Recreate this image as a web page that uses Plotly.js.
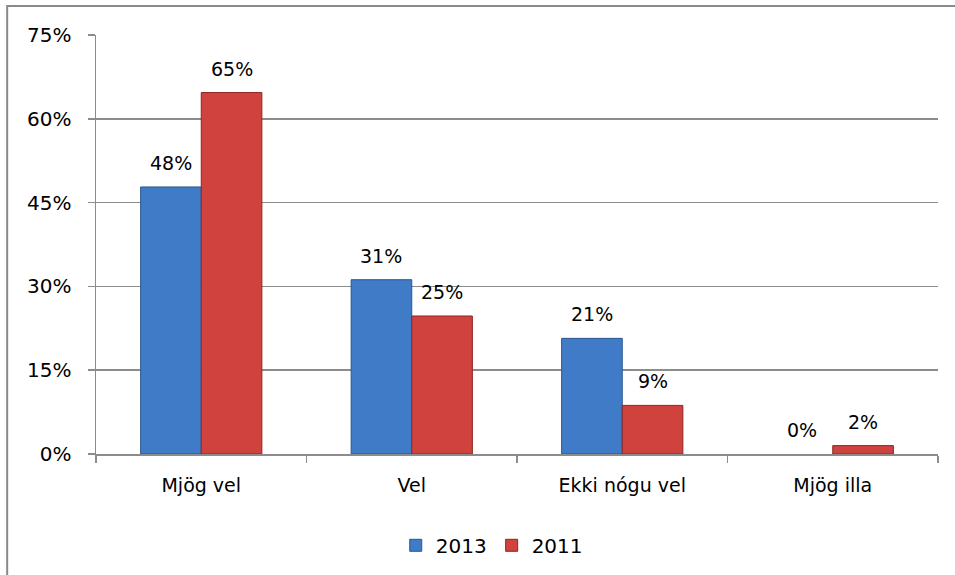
<!DOCTYPE html>
<html>
<head>
<meta charset="utf-8">
<script src="https://cdn.plot.ly/plotly-3.0.1.min.js"></script>
<style>
  html, body { margin: 0; padding: 0; background: #ffffff; }
  #chart { width: 955px; height: 575px; }
</style>
</head>
<body>
<div id="chart"></div>
<script>
const categories = ["Mjög vel", "Vel", "Ekki nógu vel", "Mjög illa"];
const seriesNames = ["2013", "2011"];
const values2013 = [47.8, 31.2, 20.7, 0];
const values2011 = [64.7, 24.7, 8.7, 1.5];
const labels2013 = ["48%", "31%", "21%", "0%"];
const labels2011 = ["65%", "25%", "9%", "2%"];
const yTicks = [0, 15, 30, 45, 60, 75];
const yTickText = ["0%", "15%", "30%", "45%", "60%", "75%"];

const FONT = "DejaVu Sans, sans-serif";
const gridCol = "#8c8c8c";

const traces = [
  {
    type: "bar", name: seriesNames[0], x: categories, y: values2013,
    marker: { color: "#3f7bc6", line: { color: "#2b5890", width: values2013.map(v => v > 0 ? 1 : 0) } },
    hoverinfo: "x+y"
  },
  {
    type: "bar", name: seriesNames[1], x: categories, y: values2011,
    marker: { color: "#cf423e", line: { color: "#8e2724", width: values2011.map(v => v > 0 ? 1 : 0) } },
    hoverinfo: "x+y"
  }
];

const annotations = [];
categories.forEach((c, i) => {
  annotations.push({ x: c, y: values2013[i], text: labels2013[i], xref: "x", yref: "y",
    showarrow: false, xshift: -30.5, yshift: 24, yanchor: "middle",
    font: { family: FONT, size: 19, color: "#000" } });
  annotations.push({ x: c, y: values2011[i], text: labels2011[i], xref: "x", yref: "y",
    showarrow: false, xshift: 30.5, yshift: 24, yanchor: "middle",
    font: { family: FONT, size: 19, color: "#000" } });
});

const layout = {
  width: 955, height: 575,
  margin: { l: 96, r: 17, t: 35, b: 119.5 },
  paper_bgcolor: "#ffffff", plot_bgcolor: "#ffffff",
  font: { family: FONT, size: 19, color: "#000" },
  barmode: "group", bargap: 0.424, bargroupgap: 0,
  showlegend: true,
  legend: { orientation: "h", x: 0.47, xanchor: "center", y: -0.215, yanchor: "middle",
    font: { family: FONT, size: 20, color: "#000" }, itemwidth: 30, tracegroupgap: 0 },
  xaxis: {
    type: "category", showline: true, linecolor: gridCol, linewidth: 1.5,
    ticks: "outside", tickson: "boundaries", ticklen: 7, tickcolor: gridCol, tickwidth: 1.5,
    showgrid: false, ticklabelstandoff: 14,
    tickfont: { family: FONT, size: 19, color: "#000" }
  },
  yaxis: {
    range: [0, 75], tickmode: "array", tickvals: yTicks, ticktext: yTickText,
    showline: true, linecolor: gridCol, linewidth: 1.5,
    ticks: "outside", ticklen: 7, tickcolor: gridCol, tickwidth: 1.5,
    showgrid: true, gridcolor: gridCol, gridwidth: 1.5, zeroline: false,
    ticklabelstandoff: 12,
    tickfont: { family: FONT, size: 20, color: "#000" }
  },
  annotations: annotations,
  shapes: [{
    type: "rect", xref: "paper", yref: "paper",
    x0: -0.1055, x1: 1.2, y0: -0.5, y1: 1.069,
    line: { color: "#8a8a8a", width: 2 }, fillcolor: "rgba(0,0,0,0)", layer: "below"
  }]
};

Plotly.newPlot("chart", traces, layout, { displayModeBar: false, staticPlot: true });
</script>
</body>
</html>
